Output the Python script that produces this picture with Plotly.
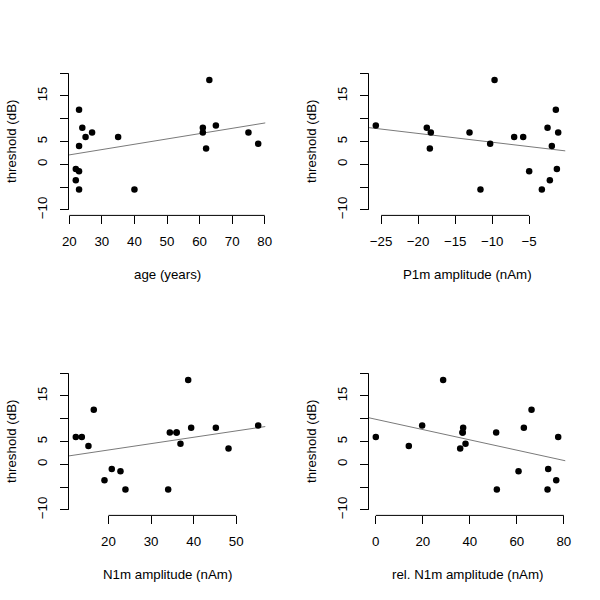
import numpy as np
import plotly.graph_objects as go

# threshold (dB) per subject, paired with each predictor
age = [23, 24, 27, 25, 35, 23, 22, 23, 22, 23, 40, 63, 61, 61, 65, 62, 75, 78]
thr_age = [12, 8, 7, 6, 6, 4, -1, -1.5, -3.5, -5.5, -5.5, 18.5, 8, 7, 8.5, 3.5, 7, 4.5]

p1m = [-25.72, -18.83, -18.29, -18.42, -13.06, -10.27, -11.58, -9.68, -7.03, -5.81,
       -5.0, -3.29, -2.52, -2.21, -1.94, -1.40, -1.26, -1.08]
thr_p1m = [8.5, 8, 7, 3.5, 7, 4.5, -5.5, 18.5, 6, 6, -1.5, -5.5, 8, -3.5, 4, 12, -1, 7]

n1m = [12.33, 13.74, 15.30, 16.55, 19.06, 20.78, 22.82, 23.99, 34.02, 34.41, 35.98,
       36.0, 36.91, 38.72, 39.42, 45.21, 48.19, 55.16]
thr_n1m = [6, 6, 4, 12, -3.5, -1, -1.5, -5.5, -5.5, 7, 7, 7, 4.5, 18.5, 8, 8, 3.5, 8.5]

reln1m = [0, 14.04, 19.72, 28.65, 37.16, 36.88, 36.95, 35.89, 38.16, 51.2, 51.49,
          62.98, 66.24, 60.71, 73.33, 73.05, 76.74, 77.59]
thr_rel = [6, 4, 8.5, 18.5, 8, 7, 7, 3.5, 4.5, 7, -5.5, 8, 12, -1.5, -1, -5.5, -3.5, 6]

x_titles = ["age (years)", "P1m amplitude (nAm)", "N1m amplitude (nAm)", "rel. N1m amplitude (nAm)"]
x_ticks = [[20, 30, 40, 50, 60, 70, 80], [-25, -20, -15, -10, -5], [20, 30, 40, 50], [0, 20, 40, 60, 80]]
x_ticktext = [["20", "30", "40", "50", "60", "70", "80"], ["−25", "−20", "−15", "−10", "−5"],
              ["20", "30", "40", "50"], ["0", "20", "40", "60", "80"]]
y_ticks = [-10, -5, 0, 5, 10, 15, 20]
y_ticktext = ["−10", "", "0", "5", "", "15", ""]
y_title = "threshold (dB)"

panels = [(age, thr_age), (p1m, thr_p1m), (n1m, thr_n1m), (reln1m, thr_rel)]

W = H = 600
FS = 13.3
FONT = "Liberation Sans, Arial, sans-serif"
# plot regions in pixels (left, top, right, bottom)
regions = [(68.5, 67.7, 265.5, 215.4), (368.5, 67.7, 565.5, 215.4),
           (68.5, 367.7, 265.5, 515.4), (368.5, 367.7, 565.5, 515.4)]
ylim = (-11.2, 21.2)

fig = go.Figure()
layout = dict(width=W, height=H, margin=dict(l=0, r=0, t=0, b=0, autoexpand=False),
              plot_bgcolor="white", paper_bgcolor="white", showlegend=False,
              hovermode=False,
              font=dict(family=FONT, color="black", size=FS))
shapes = []
annotations = []

for i, ((xs, ys), (l, t, r, b)) in enumerate(zip(panels, regions)):
    k = "" if i == 0 else str(i + 1)
    xa, ya = "xaxis" + k, "yaxis" + k
    xr, yr = "x" + k, "y" + k
    xs = np.array(xs, float)
    ys = np.array(ys, float)
    pad = 0.04 * (xs.max() - xs.min())
    xlim = (xs.min() - pad, xs.max() + pad)
    layout[xa] = dict(domain=[l / W, r / W], range=list(xlim), anchor=yr,
                      showgrid=False, zeroline=False, showline=False,
                      tickmode="array", tickvals=x_ticks[i], ticktext=x_ticktext[i],
                      ticks="outside", ticklen=7.5, tickwidth=1, tickcolor="black",
                      tickfont=dict(size=FS, family=FONT, color="black"),
                      ticklabelstandoff=6)
    layout[ya] = dict(domain=[1 - b / H, 1 - t / H], range=list(ylim), anchor=xr,
                      showgrid=False, zeroline=False, showline=False,
                      tickmode="array", tickvals=y_ticks, ticktext=y_ticktext,
                      ticks="outside", ticklen=7.5, tickwidth=1, tickcolor="black",
                      tickangle=-90,
                      tickfont=dict(size=FS, family=FONT, color="black"),
                      ticklabelstandoff=8)
    # R-style axis lines spanning first to last tick
    shapes.append(dict(type="line", xref=xr, yref=yr + " domain",
                       x0=x_ticks[i][0], x1=x_ticks[i][-1], y0=0, y1=0,
                       line=dict(color="black", width=1)))
    shapes.append(dict(type="line", xref=xr + " domain", yref=yr,
                       x0=0, x1=0, y0=y_ticks[0], y1=y_ticks[-1],
                       line=dict(color="black", width=1)))
    # least-squares regression line across plot region
    slope, icpt = np.polyfit(xs, ys, 1)
    shapes.append(dict(type="line", xref=xr, yref=yr,
                       x0=xlim[0], x1=xlim[1], y0=icpt + slope * xlim[0], y1=icpt + slope * xlim[1],
                       line=dict(color="#7a7a7a", width=1), layer="below"))
    fig.add_trace(go.Scatter(x=xs, y=ys, mode="markers", xaxis=xr, yaxis=yr,
                             marker=dict(color="black", size=6.5, line=dict(width=0))))
    annotations.append(dict(text=x_titles[i], xref="paper", yref="paper",
                            x=(l + r) / 2 / W, y=1 - (b + 59) / H,
                            showarrow=False, xanchor="center", yanchor="middle",
                            font=dict(size=FS, family=FONT, color="black")))
    annotations.append(dict(text=y_title, xref="paper", yref="paper",
                            x=(l - 57) / W, y=1 - (t + b) / 2 / H, textangle=-90,
                            showarrow=False, xanchor="center", yanchor="middle",
                            font=dict(size=FS, family=FONT, color="black")))

layout["shapes"] = shapes
layout["annotations"] = annotations
fig.update_layout(**layout)
fig.write_html("out.html", config={"displayModeBar": False},
               post_script="document.body.style.margin='0';")
